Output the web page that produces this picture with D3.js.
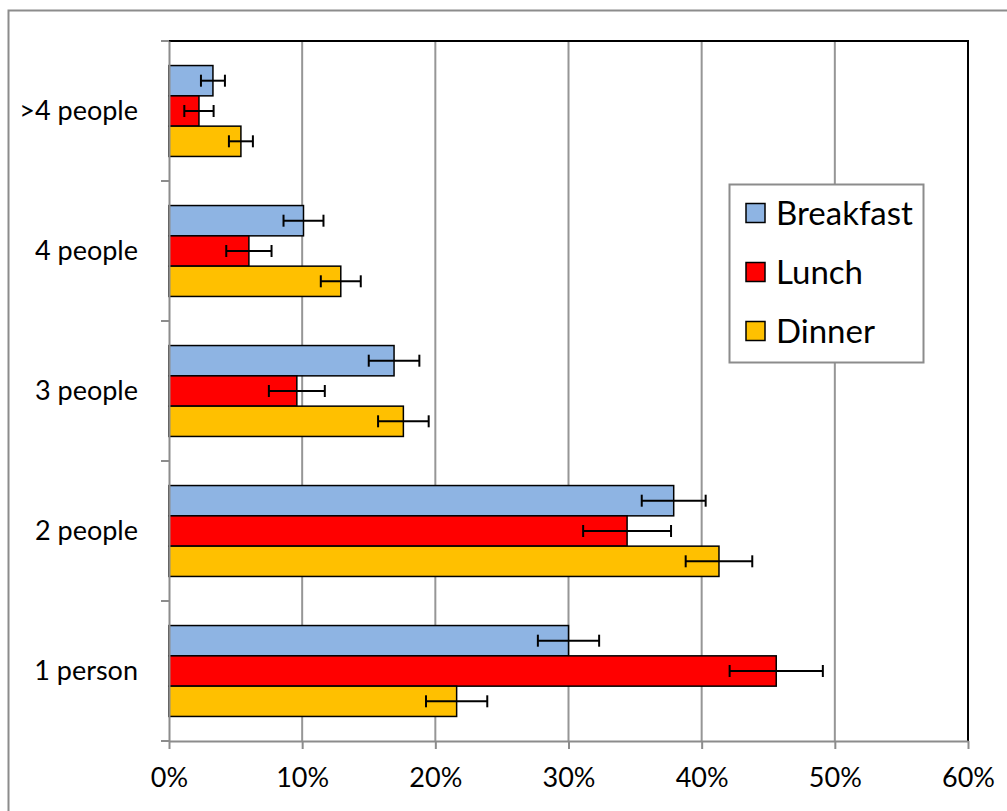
<!DOCTYPE html>
<html>
<head>
<meta charset="utf-8">
<script src="https://cdn.jsdelivr.net/npm/d3@7"></script>
<style>
  body { margin: 0; background: #fff; }
  svg { display: block; font-family: Lato, "Liberation Sans", sans-serif; }
</style>
</head>
<body>
<div id="chart"></div>
<script>
// data (percent)
const categories = ['>4 people', '4 people', '3 people', '2 people', '1 person'];
const seriesNames = ['Breakfast', 'Lunch', 'Dinner'];
const seriesColors = ['#8EB4E3', '#FF0000', '#FFC000'];
const breakfast = [3.3, 10.1, 16.9, 37.9, 30.0];
const lunch = [2.25, 6.0, 9.6, 34.4, 45.6];
const dinner = [5.4, 12.9, 17.6, 41.3, 21.6];
const breakfastErr = [0.9, 1.5, 1.9, 2.4, 2.3];
const lunchErr = [1.1, 1.7, 2.1, 3.3, 3.5];
const dinnerErr = [0.9, 1.5, 1.9, 2.5, 2.3];
const xTicks = [0, 10, 20, 30, 40, 50, 60];

const values = [breakfast, lunch, dinner];
const errors = [breakfastErr, lunchErr, dinnerErr];

const margin = { top: 41, right: 39, bottom: 70, left: 169 },
  width = 1007 - margin.left - margin.right,
  height = 811 - margin.top - margin.bottom;

const rows = [];
categories.forEach((c, i) => {
  seriesNames.forEach((s, j) => {
    rows.push({ cat: c, series: s, value: values[j][i], err: errors[j][i], color: seriesColors[j] });
  });
});

const root = d3.select('#chart').append('svg')
  .attr('width', 1007)
  .attr('height', 811);

// outer chart frame
root.append('rect')
  .attr('x', 8.5).attr('y', 10.5)
  .attr('width', 1100).attr('height', 900)
  .attr('fill', 'none')
  .attr('stroke', '#8c8c8c')
  .attr('stroke-width', 2);

const svg = root.append('g')
  .attr('transform', `translate(${margin.left},${margin.top})`);

const x = d3.scaleLinear().domain([0, 60]).range([0, width]);
const y = d3.scaleBand().domain(categories).range([0, height]);
const inner = d3.scaleBand().domain(seriesNames).range([0, y.bandwidth()]).paddingOuter(0.81);

// gridlines
svg.append('g')
  .selectAll('line')
  .data(xTicks.slice(1, -1))
  .join('line')
  .attr('x1', (d) => x(d)).attr('x2', (d) => x(d))
  .attr('y1', 0).attr('y2', height)
  .attr('stroke', '#969696')
  .attr('stroke-width', 2);

// top and right border of plot area
svg.append('path')
  .attr('d', `M0,0H${width}V${height}`)
  .attr('fill', 'none')
  .attr('stroke', '#000')
  .attr('stroke-width', 2);

// bars
svg.append('g')
  .selectAll('rect')
  .data(rows)
  .join('rect')
  .attr('x', 0)
  .attr('y', (d) => y(d.cat) + inner(d.series))
  .attr('width', (d) => x(d.value))
  .attr('height', inner.bandwidth())
  .attr('fill', (d) => d.color)
  .attr('stroke', '#000')
  .attr('stroke-width', 1.5);

// error bars
const eb = svg.append('g')
  .selectAll('g')
  .data(rows)
  .join('g')
  .attr('transform', (d) => `translate(0,${y(d.cat) + inner(d.series) + inner.bandwidth() / 2})`)
  .attr('stroke', '#000')
  .attr('stroke-width', 2);

eb.append('line')
  .attr('x1', (d) => x(d.value - d.err))
  .attr('x2', (d) => x(d.value + d.err));
eb.append('line')
  .attr('x1', (d) => x(d.value - d.err)).attr('x2', (d) => x(d.value - d.err))
  .attr('y1', -6).attr('y2', 6);
eb.append('line')
  .attr('x1', (d) => x(d.value + d.err)).attr('x2', (d) => x(d.value + d.err))
  .attr('y1', -6).attr('y2', 6);

// x axis
const xAxis = svg.append('g')
  .attr('transform', `translate(0,${height})`)
  .call(d3.axisBottom(x).tickValues(xTicks).tickFormat((d) => `${d}%`)
    .tickSize(8).tickSizeOuter(0).tickPadding(19))
  .attr('font-family', null)
  .attr('font-size', 27);
xAxis.selectAll('path, line').attr('stroke', '#8c8c8c').attr('stroke-width', 2);
xAxis.selectAll('text').attr('fill', '#000');

// y axis
const yAxis = svg.append('g')
  .call(d3.axisLeft(y).tickSize(0).tickSizeOuter(0).tickPadding(31))
  .attr('font-family', null)
  .attr('font-size', 27);
yAxis.select('.domain').attr('stroke', '#8c8c8c').attr('stroke-width', 2);
yAxis.selectAll('text').attr('fill', '#000');

yAxis.append('g')
  .selectAll('line')
  .data(d3.range(categories.length + 1))
  .join('line')
  .attr('x1', -8).attr('x2', 0)
  .attr('y1', (i) => i * y.step()).attr('y2', (i) => i * y.step())
  .attr('stroke', '#8c8c8c')
  .attr('stroke-width', 2);

// legend
const legend = root.append('g').attr('transform', 'translate(729,184)');
legend.append('rect')
  .attr('x', 0.5).attr('y', 0.5)
  .attr('width', 194).attr('height', 178)
  .attr('fill', '#fff')
  .attr('stroke', '#8c8c8c')
  .attr('stroke-width', 2);

const item = legend.selectAll('g.item')
  .data(seriesNames)
  .join('g')
  .attr('class', 'item')
  .attr('transform', (d, i) => `translate(17,${29 + i * 59})`);
item.append('rect')
  .attr('x', 0).attr('y', -9.5)
  .attr('width', 19).attr('height', 19)
  .attr('fill', (d, i) => seriesColors[i])
  .attr('stroke', '#000')
  .attr('stroke-width', 1.5);
item.append('text')
  .attr('x', 30).attr('dy', '0.36em')
  .attr('font-size', 33)
  .text((d) => d);
</script>
</body>
</html>
